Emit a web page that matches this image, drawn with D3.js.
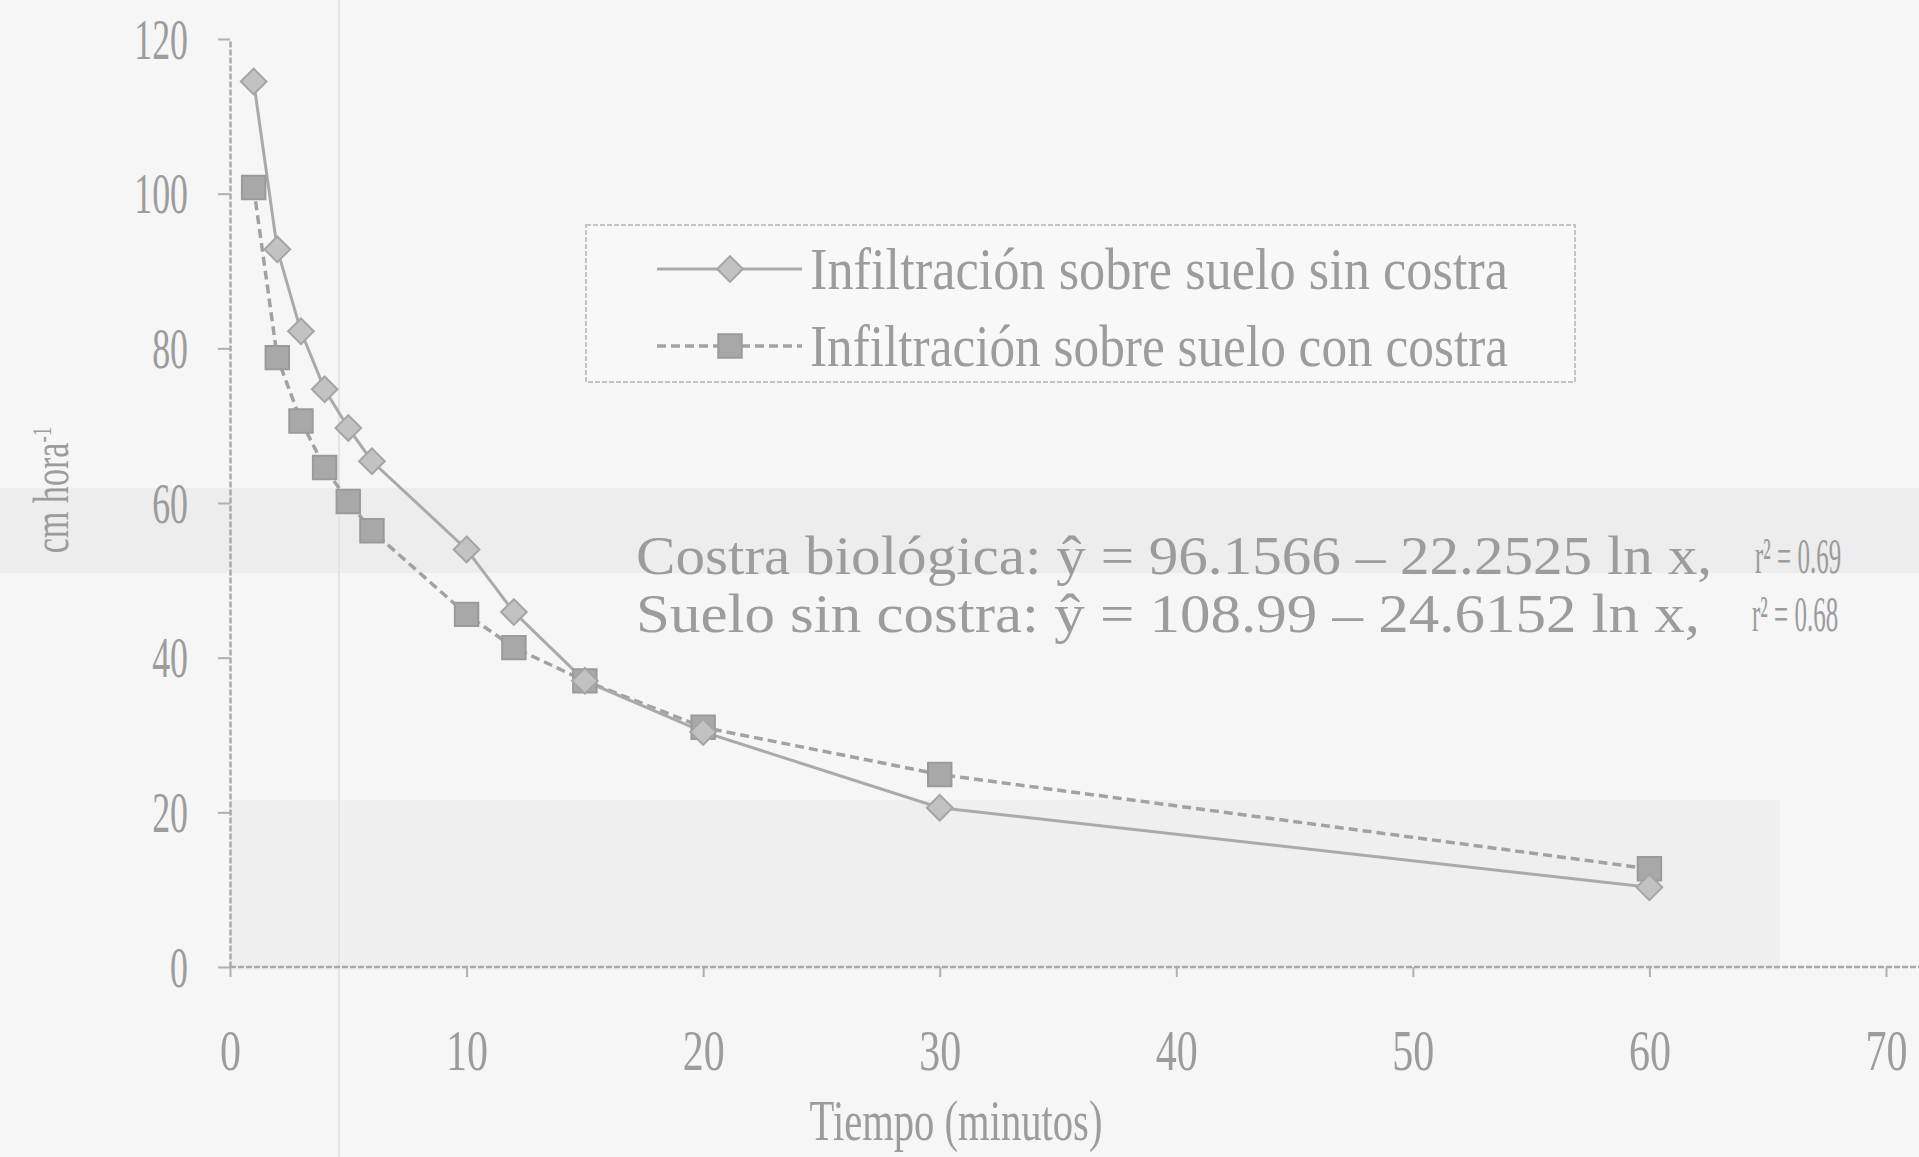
<!DOCTYPE html>
<html>
<head>
<meta charset="utf-8">
<script src="https://cdn.jsdelivr.net/npm/d3@7"></script>
<style>
  body { margin: 0; background: #f6f6f6; }
  svg text { font-family: "Liberation Serif", "DejaVu Serif", serif; fill: #9c9c9c; }
</style>
</head>
<body>
<div id="chart"></div>
<script>
// datos
var tiempo = [1, 2, 3, 4, 5, 6, 10, 12, 15, 20, 30, 60];
var sinCostra = [114.5, 92.8, 82.2, 74.7, 69.7, 65.4, 54.0, 45.9, 37.0, 30.4, 20.6, 10.3];
var conCostra = [100.8, 78.8, 70.6, 64.6, 60.2, 56.4, 45.6, 41.3, 37.0, 31.0, 24.9, 12.7];
var xTicks = [0, 10, 20, 30, 40, 50, 60, 70];
var yTicks = [0, 20, 40, 60, 80, 100, 120];
var leyenda = ["Infiltración sobre suelo sin costra", "Infiltración sobre suelo con costra"];
var ecuaciones = ["Costra biológica: ŷ = 96.1566 – 22.2525 ln x,", "Suelo sin costra: ŷ = 108.99 – 24.6152 ln x,"];
var r2 = ["r² = 0.69", "r² = 0.68"];

var W = 1919, H = 1157;
var svg = d3.select("#chart").append("svg")
	.attr("width", W)
	.attr("height", H);

// fondo del escaneo
svg.append("rect").attr("width", W).attr("height", H).attr("fill", "#f6f6f6");
svg.append("rect").attr("x", 0).attr("y", 488).attr("width", W).attr("height", 85)
	.attr("fill", "#e9e9e9").attr("opacity", 0.7);
svg.append("rect").attr("x", 230).attr("y", 800).attr("width", 1550).attr("height", 170)
	.attr("fill", "#ebebeb").attr("opacity", 0.6);
svg.append("line").attr("x1", 339).attr("x2", 339).attr("y1", 0).attr("y2", H)
	.attr("stroke", "#e4e4e4").attr("stroke-width", 2);

var x = d3.scaleLinear().domain([0, 70]).range([230, 1886]);
var y = d3.scaleLinear().domain([0, 120]).range([967, 39]);

function squeeze(sel, k) {
	sel.each(function() {
		var w = this.getComputedTextLength();
		d3.select(this).attr("textLength", w * k).attr("lengthAdjust", "spacingAndGlyphs");
	});
}

// ejes
var gy = svg.append("g").attr("transform", "translate(230,0)")
	.call(d3.axisLeft(y).tickValues(yTicks).tickSizeInner(12).tickSizeOuter(0).tickPadding(30));
var gx = svg.append("g").attr("transform", "translate(0,967)")
	.call(d3.axisBottom(x).tickValues(xTicks).tickSizeInner(10).tickSizeOuter(0).tickPadding(74));
gx.select(".domain").attr("d", "M230,0H1919");
[gx, gy].forEach(function(g) {
	g.select(".domain").attr("stroke", "#a9a9a9").attr("stroke-width", 2.5).attr("stroke-dasharray", "6,2");
	g.selectAll(".tick line").attr("stroke", "#b0b0b0").attr("stroke-width", 2);
	g.selectAll("text").style("font-size", "56px").attr("fill", "#a8a8a8");
});
gy.selectAll("text").attr("dy", "0.34em").call(squeeze, 0.64);
gx.selectAll("text").attr("dy", "0.34em").attr("transform", "scale(0.75,1)");

// titulos de ejes
svg.append("text").attr("x", 956).attr("y", 1140).attr("text-anchor", "middle")
	.style("font-size", "58px").text("Tiempo (minutos)").call(squeeze, 0.7);
svg.append("text").attr("transform", "translate(68,490) rotate(-90)").attr("text-anchor", "middle")
	.style("font-size", "50px").attr("fill", "#c2c2c2")
	.text("cm hora").call(squeeze, 0.78)
	.append("tspan").attr("dy", "-0.6em").style("font-size", "28px").text("-1");

// lineas
var line = d3.line().x(function(d) { return x(d[0]); }).y(function(d) { return y(d[1]); });
var dSin = tiempo.map(function(t, i) { return [t, sinCostra[i]]; });
var dCon = tiempo.map(function(t, i) { return [t, conCostra[i]]; });

svg.append("path").datum(dCon).attr("d", line).attr("fill", "none")
	.attr("stroke", "#a2a2a2").attr("stroke-width", 3.5).attr("stroke-dasharray", "9,5");
svg.append("path").datum(dSin).attr("d", line).attr("fill", "none")
	.attr("stroke", "#aaaaaa").attr("stroke-width", 3);

var diamond = d3.symbol().type(d3.symbolDiamond2).size(420);
var square = d3.symbol().type(d3.symbolSquare2).size(700);

svg.append("g").selectAll("path").data(dCon).enter().append("path")
	.attr("d", square)
	.attr("transform", function(d) { return "translate(" + x(d[0]) + "," + y(d[1]) + ")"; })
	.attr("fill", "#a8a8a8").attr("stroke", "#9a9a9a").attr("stroke-width", 2);
svg.append("g").selectAll("path").data(dSin).enter().append("path")
	.attr("d", diamond)
	.attr("transform", function(d) { return "translate(" + x(d[0]) + "," + y(d[1]) + ")"; })
	.attr("fill", "#c2c2c2").attr("stroke", "#a5a5a5").attr("stroke-width", 2);

// leyenda
var lg = svg.append("g");
lg.append("rect").attr("x", 586).attr("y", 225).attr("width", 989).attr("height", 157)
	.attr("fill", "#f8f8f8").attr("stroke", "#c4c4c4").attr("stroke-width", 2).attr("stroke-dasharray", "5,2");
var legY = [269, 346];
lg.append("line").attr("x1", 657).attr("x2", 802).attr("y1", legY[0]).attr("y2", legY[0])
	.attr("stroke", "#aaaaaa").attr("stroke-width", 3);
lg.append("path").attr("d", diamond).attr("transform", "translate(730," + legY[0] + ")")
	.attr("fill", "#c2c2c2").attr("stroke", "#a5a5a5").attr("stroke-width", 2);
lg.append("line").attr("x1", 657).attr("x2", 802).attr("y1", legY[1]).attr("y2", legY[1])
	.attr("stroke", "#a2a2a2").attr("stroke-width", 3.5).attr("stroke-dasharray", "9,5");
lg.append("path").attr("d", square).attr("transform", "translate(730," + legY[1] + ")")
	.attr("fill", "#a8a8a8").attr("stroke", "#9a9a9a").attr("stroke-width", 2);
lg.selectAll("text.ley").data(leyenda).enter().append("text").attr("class", "ley")
	.attr("x", 810).attr("y", function(d, i) { return legY[i]; }).attr("dy", "0.34em")
	.style("font-size", "60px")
	.attr("textLength", 698).attr("lengthAdjust", "spacingAndGlyphs")
	.text(function(d) { return d; });

// ecuaciones
var eqY = [556, 614];
svg.selectAll("text.eq").data(ecuaciones).enter().append("text").attr("class", "eq")
	.attr("x", 636).attr("y", function(d, i) { return eqY[i]; }).attr("dy", "0.34em")
	.style("font-size", "54px")
	.attr("textLength", function(d, i) { return i === 0 ? 1076 : 1064; })
	.attr("lengthAdjust", "spacingAndGlyphs")
	.text(function(d) { return d; });
svg.selectAll("text.r2").data(r2).enter().append("text").attr("class", "r2")
	.attr("transform", function(d, i) {
		return "translate(" + (i === 0 ? 1755 : 1752) + "," + eqY[i] + ") scale(0.5,1)";
	})
	.attr("dy", "0.34em")
	.style("font-size", "50px").attr("fill", "#b3b3b3")
	.text(function(d) { return d; });
</script>
</body>
</html>
